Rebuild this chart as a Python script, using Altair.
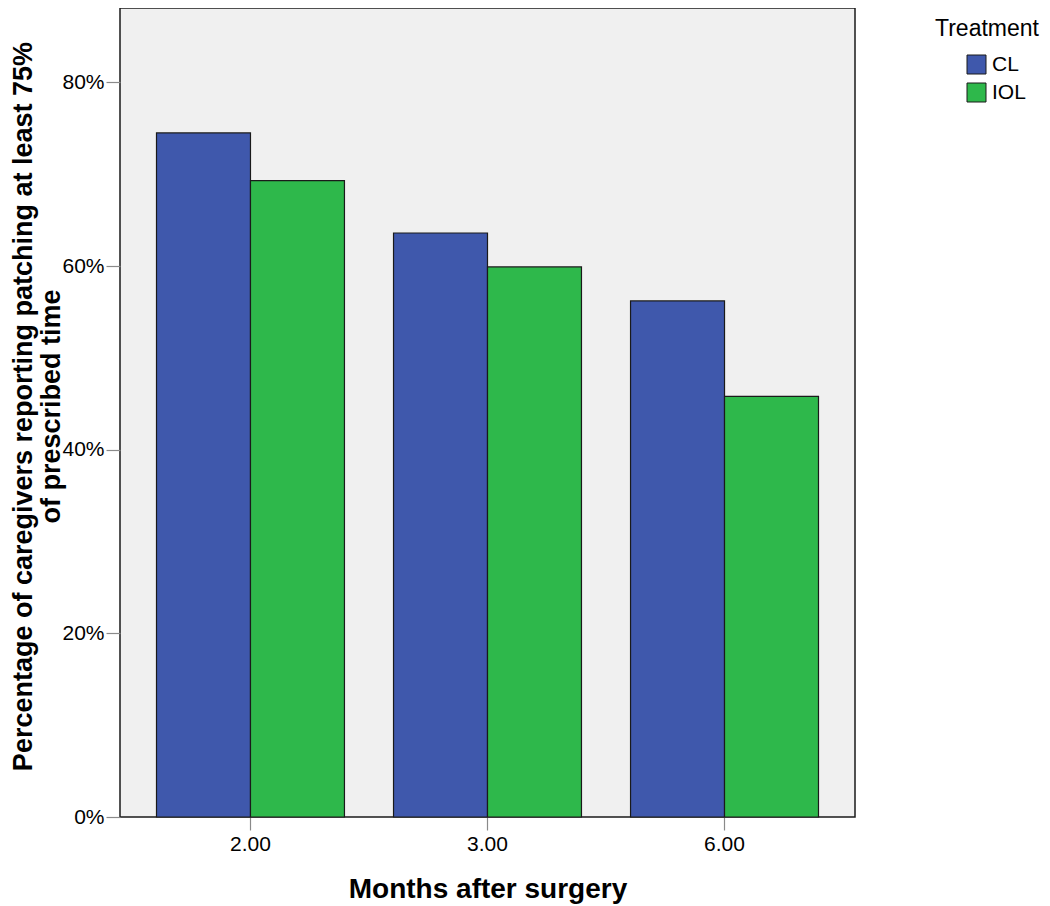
import altair as alt
import pandas as pd

months = ["2.00", "3.00", "6.00"]
treatments = ["CL", "IOL"]
cl_values = [74.5, 63.6, 56.2]
iol_values = [69.3, 59.9, 45.8]
y_ticks = [0, 0.2, 0.4, 0.6, 0.8]

rows = []
for m, c, i in zip(months, cl_values, iol_values):
    rows.append({"Month": m, "Treatment": "CL", "Pct": c / 100})
    rows.append({"Month": m, "Treatment": "IOL", "Pct": i / 100})
df = pd.DataFrame(rows)

FONT = "Liberation Sans"

chart = alt.Chart(df).mark_bar(stroke="#1a1a1a", strokeWidth=1.2).encode(
    x=alt.X("Month:N", sort=months,
            scale=alt.Scale(paddingInner=0.207, paddingOuter=0.154),
            axis=alt.Axis(title="Months after surgery", labelAngle=0,
                          titleFontSize=28, titleFontWeight="bold",
                          titleY=58, titleBaseline="top",
                          labelFontSize=21, tickSize=13, labelPadding=3)),
    xOffset=alt.XOffset("Treatment:N", sort=treatments,
                        scale=alt.Scale(paddingInner=0, paddingOuter=0)),
    y=alt.Y("Pct:Q", scale=alt.Scale(domain=[0, 0.881], nice=False),
            axis=alt.Axis(values=y_ticks, format=".0%",
                          title=["Percentage of caregivers reporting patching at least 75%",
                                 "of prescribed time"],
                          titleFontSize=27, titleFontWeight="bold",
                          titleX=-110, titleY=398, titleAngle=270,
                          titleBaseline="top", titleAlign="center",
                          titleLineHeight=28,
                          labelFontSize=21, tickSize=14, labelPadding=2)),
    color=alt.Color("Treatment:N", sort=treatments,
                    scale=alt.Scale(domain=treatments, range=["#3F58AC", "#2EB84B"]),
                    legend=alt.Legend(orient="none", legendX=815, legendY=10,
                                      title="Treatment", titleFontSize=23,
                                      titleFontWeight="normal", titleColor="black",
                                      titlePadding=13, labelFontSize=21,
                                      labelColor="black", symbolType="square",
                                      symbolSize=361, symbolStrokeColor="#1a1a1a",
                                      symbolStrokeWidth=1, symbolOffset=31,
                                      labelOffset=5, rowPadding=5)),
).properties(
    width=735, height=809,
    autosize=alt.AutoSizeParams(type="none"),
    padding={"left": 112, "top": 0, "right": 187, "bottom": 89},
).configure_view(
    fill="#F0F0F0", stroke="#1a1a1a", strokeWidth=1.5
).configure_axis(
    domain=False, grid=False, tickColor="#8a8a8a", tickWidth=1.2,
    labelColor="black", titleColor="black", labelFont=FONT, titleFont=FONT
).configure_legend(
    labelFont=FONT, titleFont=FONT
)

chart.save("out.html", embed_options={"renderer": "svg", "actions": False})
